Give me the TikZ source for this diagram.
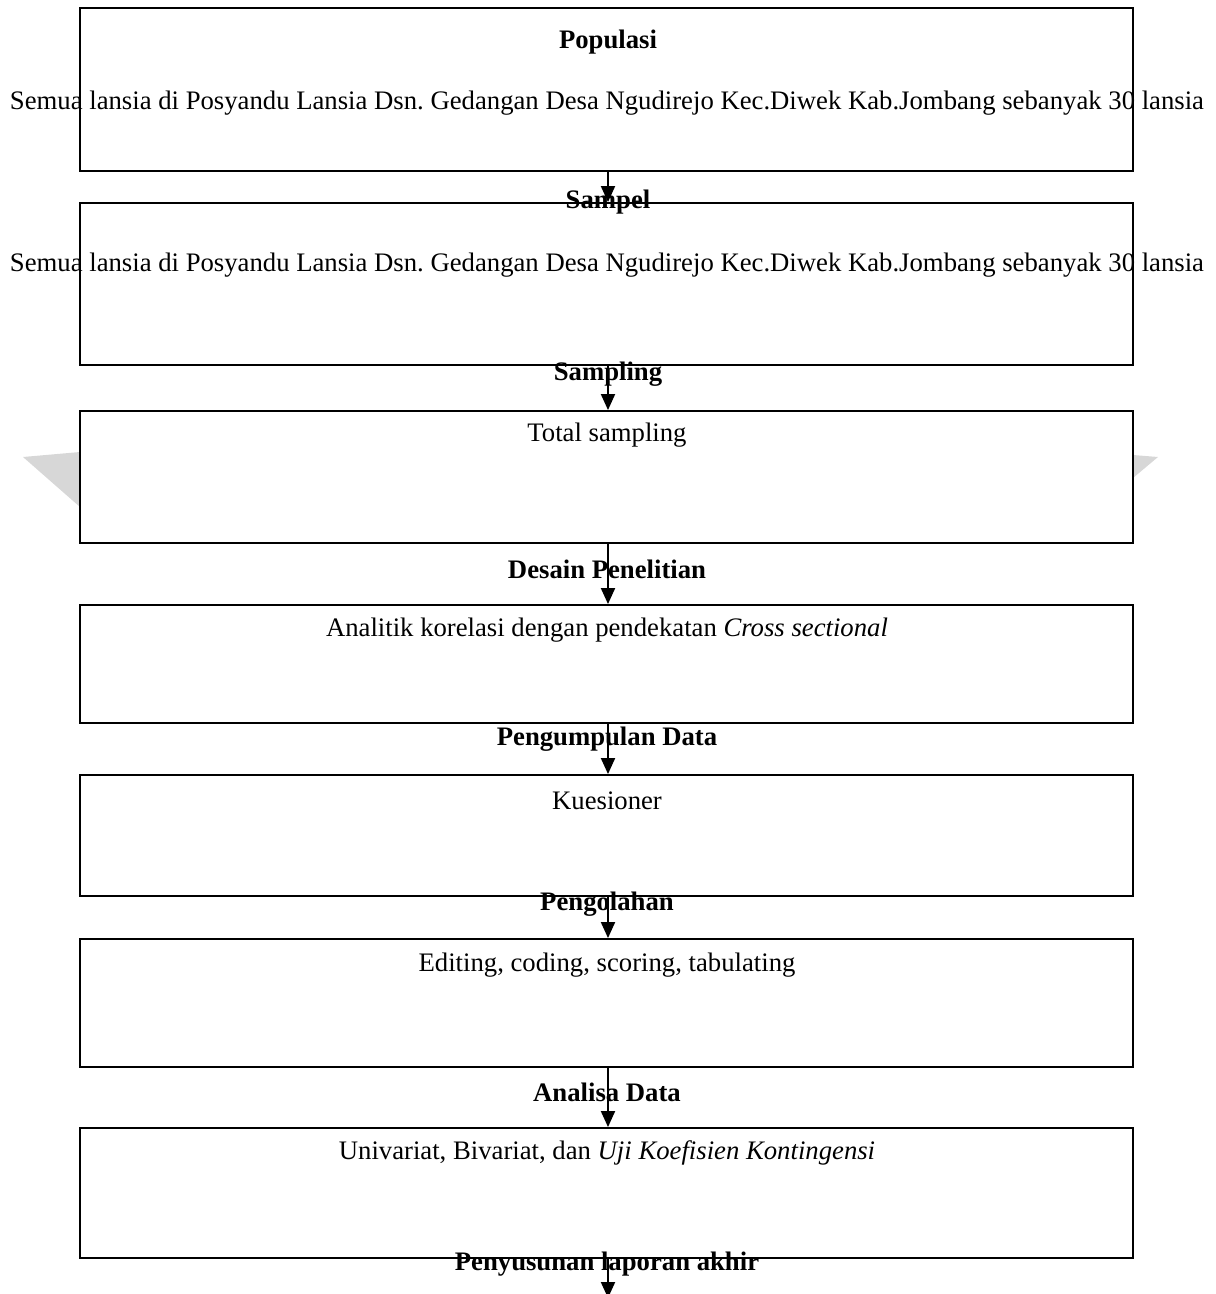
\documentclass[tikz,border=0pt]{standalone}
\usepackage{fontspec}
\setmainfont{Liberation Serif}
\usepackage{xcolor}
\usepackage{tikz}
\usetikzlibrary{arrows.meta, positioning, calc}
\definecolor{markgray}{RGB}{215, 215, 215}
\frenchspacing

\begin{document}
\begin{tikzpicture}[
    x=0.02cm, y=-0.02cm,
    box/.style={draw, line width=1.1pt, fill=white, minimum width=21.06cm, inner sep=0pt},
    label/.style={font=\fontsize{15.2}{18}\selectfont\bfseries, inner sep=0pt, yshift=-0.05cm},
    content/.style={font=\fontsize{15.2}{18}\selectfont, inner sep=0pt, yshift=-0.05cm},
    arrow/.style={-{Triangle[width=0.28cm, length=0.32cm]}, line width=1.1pt}
]
    \useasboundingbox (0,0) rectangle (1215,1294);
    % faint marks at the sides
    \fill[markgray] (23,457) -- (80,452) -- (80,507) -- cycle;
    \fill[markgray] (1133,455) -- (1158,457) -- (1133,478) -- cycle;

    \node[box, minimum height=3.26cm] (populasi) at (606.5,89.5) {};
    \node[box, minimum height=3.24cm] (sampel) at (606.5,284) {};
    \node[box, minimum height=2.64cm] (sampling) at (606.5,477) {};
    \node[box, minimum height=2.36cm] (desain) at (606.5,664) {};
    \node[box, minimum height=2.42cm] (kumpul) at (606.5,835.5) {};
    \node[box, minimum height=2.56cm] (olah) at (606.5,1003) {};
    \node[box, minimum height=2.60cm] (analisa) at (606.5,1193) {};
    \coordinate (akhir) at (608,1298);

    \node[label] (lpopulasi) at (608,40) {Populasi};
    \node[label] (lsampel) at (608,200) {Sampel};
    \node[label] (lsampling) at (608,372) {Sampling};
    \node[label] (ldesain) at (607,567) {Desain Penelitian};
    \node[label] (lkumpul) at (607,737) {Pengumpulan Data};
    \node[label] (lolah) at (607,902) {Pengolahan};
    \node[label] (lanalisa) at (607,1090) {Analisa Data};
    \node[label] (lakhir) at (607,1262) {Penyusunan laporan akhir};

    \node[content] (tpopulasi) at (607,101) {Semua lansia di Posyandu Lansia Dsn. Gedangan Desa Ngudirejo Kec.Diwek Kab.Jombang sebanyak 30 lansia};
    \node[content] (tsampel) at (607,263) {Semua lansia di Posyandu Lansia Dsn. Gedangan Desa Ngudirejo Kec.Diwek Kab.Jombang sebanyak 30 lansia};
    \node[content] (tsampling) at (607,433) {Total sampling};
    \node[content] (tdesain) at (607,628) {Analitik korelasi dengan pendekatan \textit{Cross sectional}};
    \node[content] (tkumpul) at (607,798) {Kuesioner};
    \node[content] (tolah) at (607,963) {Editing, coding, scoring, tabulating};
    \node[content] (tanalisa) at (607,1150) {Univariat, Bivariat, dan \textit{Uji Koefisien Kontingensi}};

    \draw[arrow] (populasi.south -| akhir) -- (sampel.north -| akhir);
    \draw[arrow] (sampel.south -| akhir) -- (sampling.north -| akhir);
    \draw[arrow] (sampling.south -| akhir) -- (desain.north -| akhir);
    \draw[arrow] (desain.south -| akhir) -- (kumpul.north -| akhir);
    \draw[arrow] (kumpul.south -| akhir) -- (olah.north -| akhir);
    \draw[arrow] (olah.south -| akhir) -- (analisa.north -| akhir);
    \draw[arrow] (analisa.south -| akhir) -- (akhir);
\end{tikzpicture}
\end{document}
